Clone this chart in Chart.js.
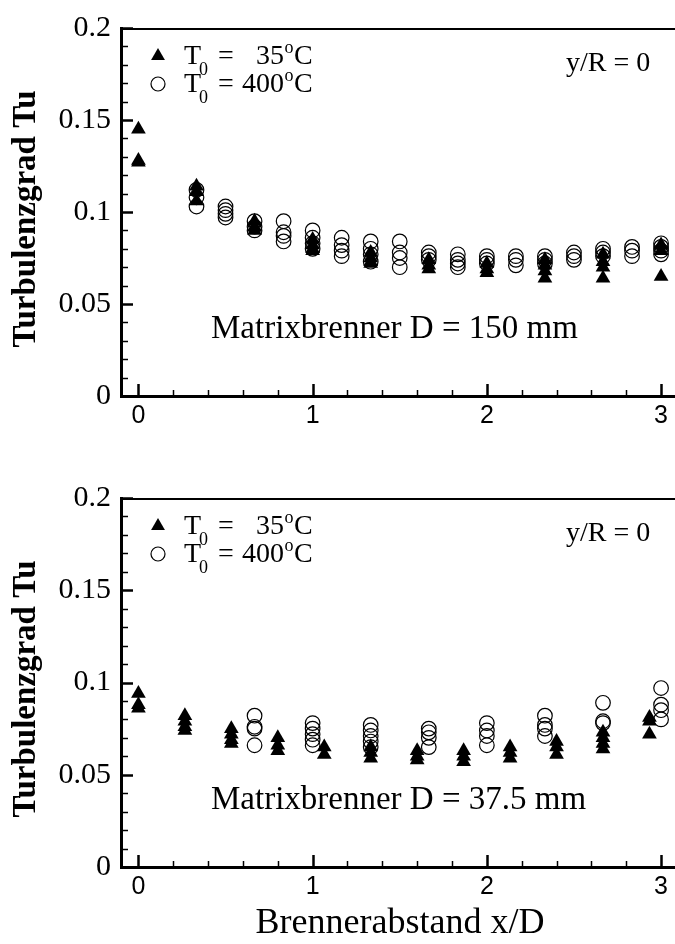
<!DOCTYPE html>
<html>
<head>
<meta charset="utf-8">
<script src="https://cdn.jsdelivr.net/npm/chart.js@4.4.1/dist/chart.umd.min.js"></script>
<style>
  html, body { margin: 0; padding: 0; background: #fff; overflow: hidden; }
  #wrap { position: relative; width: 675px; height: 944px; }
  .panel { position: absolute; left: 0; width: 675px; }
</style>
</head>
<body>
<div id="wrap">
  <div class="panel" style="top:0;height:470px"><canvas id="chartTop" width="675" height="470"></canvas></div>
  <div class="panel" style="top:470px;height:474px"><canvas id="chartBot" width="675" height="474"></canvas></div>
</div>
<script>
// Matrixbrenner D = 150 mm  (oben)
const topTriX = [0, 1/3, 2/3, 1, 4/3, 5/3, 2, 7/3, 8/3, 3];        // T0 = 35 C
const topTriTu = [
  [0.145, 0.128, 0.127],
  [0.114, 0.111, 0.106],
  [0.095, 0.092, 0.090],
  [0.085, 0.082, 0.080, 0.079],
  [0.078, 0.075, 0.073, 0.072],
  [0.074, 0.071, 0.069],
  [0.072, 0.069, 0.067],
  [0.074, 0.071, 0.068, 0.064],
  [0.077, 0.073, 0.070, 0.064],
  [0.082, 0.079, 0.065]
];
const topCircX = [1/3, 0.5, 2/3, 5/6, 1, 7/6, 4/3, 1.5, 5/3, 11/6, 2, 13/6, 7/3, 2.5, 8/3, 17/6, 3]; // T0 = 400 C
const topCircTu = [
  [0.112, 0.108, 0.103],
  [0.103, 0.101, 0.099, 0.097],
  [0.095, 0.092, 0.090],
  [0.095, 0.089, 0.087, 0.084],
  [0.090, 0.086, 0.083, 0.080],
  [0.086, 0.082, 0.079, 0.076],
  [0.084, 0.080, 0.077, 0.073],
  [0.084, 0.078, 0.075, 0.070],
  [0.078, 0.076, 0.074],
  [0.077, 0.074, 0.072, 0.070],
  [0.076, 0.074, 0.072],
  [0.076, 0.074, 0.071],
  [0.076, 0.074, 0.072],
  [0.078, 0.076, 0.074],
  [0.080, 0.078, 0.076],
  [0.081, 0.079, 0.076],
  [0.083, 0.081, 0.079, 0.077]
];

// Matrixbrenner D = 37.5 mm  (unten)
const botTriX = [0, 4/15, 8/15, 0.8, 16/15, 4/3, 1.6, 28/15, 32/15, 2.4, 8/3, 44/15];
const botTriTu = [
  [0.094, 0.088, 0.086],
  [0.082, 0.079, 0.076, 0.074],
  [0.075, 0.072, 0.069, 0.067],
  [0.070, 0.066, 0.063],
  [0.065, 0.061],
  [0.065, 0.062, 0.059],
  [0.063, 0.060, 0.058],
  [0.063, 0.060, 0.057],
  [0.065, 0.062, 0.059],
  [0.068, 0.065, 0.061],
  [0.073, 0.070, 0.067, 0.064],
  [0.081, 0.079, 0.072]
];
const botCircX = [2/3, 1, 4/3, 5/3, 2, 7/3, 8/3, 3];
const botCircTu = [
  [0.082, 0.076, 0.075, 0.066],
  [0.078, 0.075, 0.072, 0.069, 0.066],
  [0.077, 0.074, 0.071, 0.068, 0.065],
  [0.075, 0.073, 0.070, 0.065],
  [0.078, 0.074, 0.071, 0.066],
  [0.082, 0.077, 0.075, 0.071],
  [0.089, 0.079, 0.078],
  [0.097, 0.088, 0.085, 0.080]
];

// Achsen
const yTicks = [0, 0.05, 0.1, 0.15, 0.2];
const yTickLabels = ['0', '0.05', '0.1', '0.15', '0.2'];
const xTicks = [0, 1, 2, 3];
const xTickLabels = ['0', '1', '2', '3'];

const serif = '"Liberation Serif", "Times New Roman", serif';

// macht aus x-Liste + Spalten von Tu-Werten eine Punktliste
function toPoints(xs, cols) {
  return xs.flatMap((x, i) => cols[i].map(v => ({ x: x, y: v })));
}

// Text mit Index/Exponent zeichnen: T0 = 35oC
function drawLegendRow(ctx, x, base, num) {
  ctx.fillStyle = '#000';
  ctx.textBaseline = 'alphabetic';
  ctx.textAlign = 'left';
  ctx.font = '28px ' + serif;
  ctx.fillText('T', x, base);
  const tw = ctx.measureText('T').width;
  ctx.font = '18px ' + serif;
  ctx.fillText('0', x + tw - 2, base + 11);
  ctx.font = '28px ' + serif;
  ctx.fillText('=', x + 34, base);
  const numEnd = x + 100;
  ctx.textAlign = 'right';
  ctx.fillText(num, numEnd, base);
  ctx.textAlign = 'left';
  ctx.font = '18px ' + serif;
  ctx.fillText('o', numEnd + 0.5, base - 11);
  ctx.font = '28px ' + serif;
  ctx.fillText('C', numEnd + 10, base);
}

function panelPlugin(panelText) {
  return {
    id: 'panelDeko',
    afterDraw(chart) {
      const ctx = chart.ctx;
      const a = chart.chartArea;
      const xs = chart.scales.x, ys = chart.scales.y;
      ctx.save();
      ctx.strokeStyle = '#000';

      // obere Rahmenlinie
      ctx.lineWidth = 2;
      ctx.beginPath();
      ctx.moveTo(a.left, a.top + 1);
      ctx.lineTo(chart.width, a.top + 1);
      ctx.stroke();

      // Ticks nach innen
      for (let k = 0; k <= 20; k++) {
        const py = Math.round(ys.getPixelForValue(k / 100)) + 0.5;
        const major = k % 5 === 0;
        ctx.lineWidth = major ? 2.5 : 1.5;
        ctx.beginPath();
        ctx.moveTo(a.left, py);
        ctx.lineTo(a.left + (major ? 12 : 7), py);
        ctx.stroke();
      }
      for (let k = 0; k <= 15; k++) {
        const px = Math.round(xs.getPixelForValue(k / 5)) + 0.5;
        const major = k % 5 === 0;
        ctx.lineWidth = major ? 2.5 : 1.5;
        ctx.beginPath();
        ctx.moveTo(px, a.bottom);
        ctx.lineTo(px, a.bottom - (major ? 12 : 6));
        ctx.stroke();
      }

      // Legende
      const lx = a.left + 37;
      ctx.fillStyle = '#000';
      ctx.beginPath();
      const ty = a.top + 28, tr = 8;
      ctx.moveTo(lx, ty - tr);
      ctx.lineTo(lx + tr * 0.866, ty + tr / 2);
      ctx.lineTo(lx - tr * 0.866, ty + tr / 2);
      ctx.closePath();
      ctx.fill();
      ctx.lineWidth = 1.2;
      ctx.beginPath();
      ctx.arc(lx, a.top + 56, 7, 0, Math.PI * 2);
      ctx.stroke();
      drawLegendRow(ctx, a.left + 63, a.top + 36, '35');
      drawLegendRow(ctx, a.left + 63, a.top + 64, '400');

      // Beschriftungen im Diagramm
      ctx.font = '28px ' + serif;
      ctx.textAlign = 'left';
      ctx.textBaseline = 'alphabetic';
      ctx.fillText('y/R = 0', 566, a.top + 43);
      ctx.font = '33px ' + serif;
      ctx.fillText(panelText, 211, a.bottom - 58);

      // y-Achsentitel
      ctx.save();
      ctx.translate(26, a.top + 191);
      ctx.rotate(-Math.PI / 2);
      ctx.font = 'bold 33px ' + serif;
      ctx.textAlign = 'center';
      ctx.textBaseline = 'middle';
      ctx.fillText('Turbulenzgrad Tu', 0, 0);
      ctx.restore();

      ctx.restore();
    }
  };
}

function makeChart(id, triX, triTu, circX, circTu, panelText, padTop, axisBottom, xTitle) {
  const H = document.getElementById(id).height;
  const plugins = [panelPlugin(panelText)];
  if (xTitle) {
    plugins.push({
      id: 'xTitel',
      afterDraw(chart) {
        const ctx = chart.ctx;
        ctx.save();
        ctx.fillStyle = '#000';
        ctx.font = '36px ' + serif;
        ctx.textAlign = 'center';
        ctx.textBaseline = 'alphabetic';
        ctx.fillText(xTitle, 400, H - 11);
        ctx.restore();
      }
    });
  }
  return new Chart(document.getElementById(id), {
    type: 'scatter',
    data: {
      datasets: [
        {
          label: 'T0 = 35 C',
          data: toPoints(triX, triTu),
          pointStyle: 'triangle',
          pointRadius: 8.5,
          pointBackgroundColor: '#000',
          pointBorderColor: '#000',
          pointBorderWidth: 0
        },
        {
          label: 'T0 = 400 C',
          data: toPoints(circX, circTu),
          pointStyle: 'circle',
          pointRadius: 7.3,
          pointBackgroundColor: 'rgba(0,0,0,0)',
          pointBorderColor: '#000',
          pointBorderWidth: 1.2
        }
      ]
    },
    options: {
      responsive: false,
      animation: false,
      clip: false,
      layout: { autoPadding: false, padding: { top: padTop, left: 0, right: 0, bottom: 0 } },
      plugins: { legend: { display: false }, tooltip: { enabled: false } },
      scales: {
        x: {
          type: 'linear',
          min: -0.1,
          max: 3.08,
          afterFit: s => { s.height = H - axisBottom; s.paddingRight = 0; s.paddingLeft = 0; },
          afterBuildTicks: s => { s.ticks = xTicks.map(v => ({ value: v })); },
          grid: { display: false, drawTicks: false },
          border: { display: true, width: 3, color: '#000' },
          ticks: {
            color: '#000',
            padding: 5,
            maxRotation: 0,
            font: { family: '"Liberation Sans", Arial, sans-serif', size: 25 },
            callback: v => xTickLabels[xTicks.indexOf(v)]
          }
        },
        y: {
          type: 'linear',
          min: 0,
          max: 0.2,
          afterFit: s => { s.width = 121; },
          afterBuildTicks: s => { s.ticks = yTicks.map(v => ({ value: v })); },
          grid: { display: false, drawTicks: false },
          border: { display: true, width: 3, color: '#000' },
          ticks: {
            color: '#000',
            padding: 10,
            font: { family: serif, size: 30 },
            callback: v => yTickLabels[yTicks.indexOf(v)]
          }
        }
      }
    },
    plugins: plugins
  });
}

makeChart('chartTop', topTriX, topTriTu, topCircX, topCircTu,
  'Matrixbrenner D = 150 mm', 24, 396, null);
makeChart('chartBot', botTriX, botTriTu, botCircX, botCircTu,
  'Matrixbrenner D = 37.5 mm', 23, 397, 'Brennerabstand x/D');
</script>
</body>
</html>
